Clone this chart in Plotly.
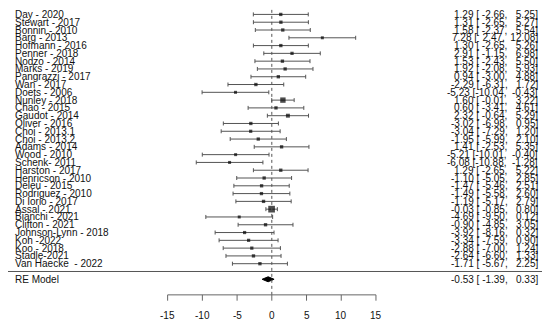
import numpy as np
import plotly.graph_objects as go

studies = ["Day - 2020", "Stewart - 2017", "Bonnin - 2010", "Barg - 2013", "Hofmann - 2016",
           "Penner - 2018", "Nodzo - 2014", "Marks - 2019", "Pangrazzi - 2017", "Wan - 2017",
           "Doets - 2006", "Nunley - 2018", "Chao - 2015", "Gaudot - 2014", "Oliver - 2016",
           "Choi - 2013.1", "Choi - 2013.2", "Adams - 2014", "Wood - 2010", "Schenk- 2011",
           "Harston - 2017", "Henricson - 2010", "Deleu - 2015", "Rodriguez - 2010",
           "Di Iorio - 2017", "Assal - 2021", "Bianchi - 2021", "Clifton - 2021",
           "Johnson-Lynn - 2018", "Koh -2022", "Koo - 2018", "Stadle-2021", "Van Haecke  - 2022"]
est = [1.29, 1.31, 1.58, 7.28, 1.30, 2.91, 1.53, 1.92, 0.94, -2.29, -5.23, 1.60, 0.60, 2.32,
       -3.02, -3.04, -1.95, 1.41, -5.21, -6.08, 1.29, -1.10, -1.47, -1.49, -1.19, -0.03,
       -4.69, -0.90, -3.92, -3.34, -2.88, -2.64, -1.71]
lower = [-2.66, -2.65, -2.37, 2.47, -2.65, -1.15, -2.43, -2.08, -3.00, -6.31, -10.04, -0.01,
         -3.41, -0.64, -6.98, -7.29, -5.99, -2.53, -10.01, -10.88, -2.65, -5.05, -5.46, -5.58,
         -5.17, -0.85, -9.50, -4.85, -8.16, -7.59, -7.00, -6.60, -5.67]
upper = [5.25, 5.27, 5.54, 12.08, 5.26, 6.98, 5.50, 5.93, 4.88, 1.72, -0.43, 3.22, 4.61, 5.29,
         0.95, 1.20, 2.10, 5.35, -0.40, -1.28, 5.22, 2.85, 2.51, 2.60, 2.79, 0.80, 0.12, 3.05,
         0.32, 0.90, 1.24, 1.33, 2.25]
re_label = "RE Model"
re_est, re_lower, re_upper = -0.53, -1.39, 0.33
xticks = [-15, -10, -5, 0, 5, 10, 15]

k = len(studies)
est_a = np.array(est)
lo_a = np.array(lower)
hi_a = np.array(upper)
ypos = np.arange(k, 0, -1)

# marker size from approximate RE weights
se = (hi_a - lo_a) / 3.92
w = np.sqrt(1.0 / (se ** 2 + 0.5))
sizes = 3.0 + (w - w.min()) * 4.5

# figure is offset by the page's 8px body margin
OFF = 8
W, H = 550 - OFF, 328 - OFF
X0, X1 = (OFF - 271.8) / 6.944, (550 - 271.8) / 6.944
Y1 = 1 + (263.7 - OFF) / 7.79
Y0 = 1 - (328 - 263.7) / 7.79

fig = go.Figure()

fig.add_trace(go.Scatter(
    x=est_a, y=ypos, mode="markers",
    marker=dict(symbol="square", size=sizes, color="black", line=dict(width=0)),
    error_x=dict(type="data", symmetric=False, array=hi_a - est_a, arrayminus=est_a - lo_a,
                 color="#555555", thickness=1, width=2),
    showlegend=False, hoverinfo="skip"))

# RE diamond
h = 0.32
fig.add_trace(go.Scatter(
    x=[re_lower, re_est, re_upper, re_est, re_lower],
    y=[-1, -1 + h, -1, -1 - h, -1],
    mode="lines", fill="toself", fillcolor="black", line=dict(color="black", width=1),
    showlegend=False, hoverinfo="skip"))

shapes = []
for yv in [k + 1, 0]:
    shapes.append(dict(type="line", xref="paper", yref="y", x0=0, x1=1, y0=yv, y1=yv,
                       line=dict(color="#555555", width=1)))
shapes.append(dict(type="line", xref="x", yref="y", x0=0, x1=0, y0=-3, y1=Y1,
                   line=dict(color="#555555", width=1, dash="dot")))
shapes.append(dict(type="line", xref="x", yref="y", x0=min(xticks), x1=max(xticks), y0=-3, y1=-3,
                   line=dict(color="#666666", width=1)))
for t in xticks:
    shapes.append(dict(type="line", xref="x", yref="y", x0=t, x1=t, y0=-3, y1=-3.75,
                       line=dict(color="#666666", width=1)))

annotations = []
font = dict(family="Liberation Sans, Arial, sans-serif", size=10, color="#111111")
nb = "\u00a0"

def fmt(e, l, u):
    s = f"{e:.2f} [{l:6.2f}, {u:6.2f}]"
    return s.replace(" ", nb)

LX = (13 - OFF) / W
RX = (540 - OFF) / W
for i in range(k):
    annotations.append(dict(x=LX, xref="paper", y=ypos[i], yref="y", text=studies[i],
                            showarrow=False, xanchor="left", yanchor="middle", font=font))
    annotations.append(dict(x=RX, xref="paper", y=ypos[i], yref="y",
                            text=fmt(est[i], lower[i], upper[i]),
                            showarrow=False, xanchor="right", yanchor="middle", font=font))
annotations.append(dict(x=LX, xref="paper", y=-1, yref="y", text=re_label,
                        showarrow=False, xanchor="left", yanchor="middle", font=font))
annotations.append(dict(x=RX, xref="paper", y=-1, yref="y",
                        text=fmt(re_est, re_lower, re_upper),
                        showarrow=False, xanchor="right", yanchor="middle", font=font))
for t in xticks:
    annotations.append(dict(x=t, xref="x", y=-5.7, yref="y", text=str(t), showarrow=False,
                            xanchor="center", yanchor="middle", font=font))

fig.update_layout(
    width=W, height=H, margin=dict(l=0, r=0, t=0, b=0),
    paper_bgcolor="white", plot_bgcolor="white",
    xaxis=dict(range=[X0, X1], visible=False, fixedrange=True),
    yaxis=dict(range=[Y0, Y1], visible=False, fixedrange=True),
    shapes=shapes, annotations=annotations, showlegend=False)

fig.write_html("out.html")
